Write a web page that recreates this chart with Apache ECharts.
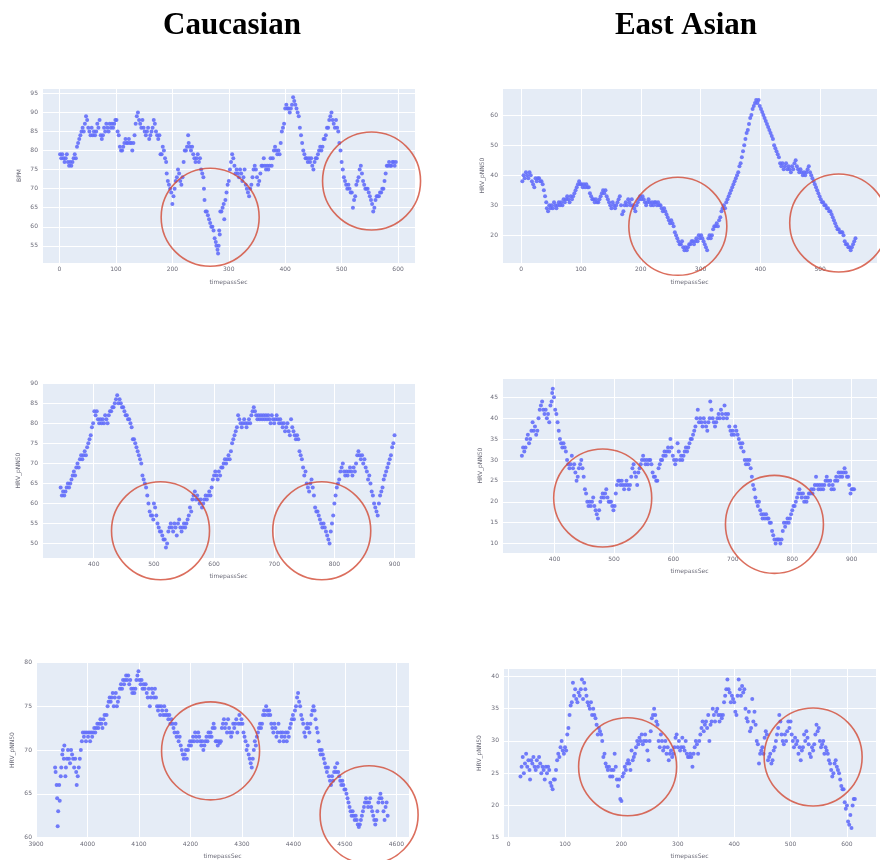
<!DOCTYPE html>
<html><head><meta charset="utf-8">
<script src="https://cdn.jsdelivr.net/npm/echarts@6/dist/echarts.min.js"></script>
<style>html,body{margin:0;padding:0;background:#fff}#c{width:880px;height:860px}</style>
</head><body><div id="c"></div>
<script>
const columnTitles = ['Caucasian', 'East Asian'];
const yNames = ['BPM', 'HRV_pNN50', 'HRV_pNN50', 'HRV_pNN50', 'HRV_pNN50', 'HRV_pNN50'];
const xName = 'timepassSec';

const p1 = [[1,79],[3,78],[5,79],[7,78],[9,77],[11,78],[13,79],[15,77],[17,76],[19,77],[21,76],[23,77],[25,78],[27,79],[29,78],
[31,81],[33,82],[35,83],[37,84],[39,85],[41,86],[43,85],[45,87],[47,89],[49,88],[51,86],[53,85],[55,84],[57,86],[59,84],[61,85],[63,84],[65,85],[67,87],[69,86],[71,88],[73,84],[75,83],[77,84],[79,86],[81,85],[83,87],[85,86],[87,85],[89,87],[91,86],[93,87],[95,86],[97,87],[99,88],[101,88],[103,85],[105,84],[107,81],[109,80],[111,80],[113,81],[115,82],[117,83],[119,82],[121,82],[123,83],[125,82],[127,82],[129,80],[131,82],[133,84],[135,87],[137,89],[139,90],[141,88],[143,87],[145,86],[147,88],[149,86],[151,85],[153,84],[155,85],[157,86],[159,83],[161,84],[163,85],[165,86],[167,88],[169,87],[171,85],[173,84],[175,83],[177,84],[179,79],[181,79],[183,81],[185,80],
[187,78],[189,77],[190,74],[192,72],[194,71],[196,70],[198,69],[200,66],[202,68],[204,70],[206,72],[208,73],[210,75],[212,74],[214,72],[216,71],[218,73],[220,77],[222,80],[224,80],[226,81],[228,84],[229,82],[231,81],[233,80],[235,81],[237,79],[239,78],[241,77],[243,78],[245,79],[247,77],[249,78],[251,75],[253,74],[255,73],[256,70],[257,67],[259,64],[261,64],[263,63],[265,62],[267,61],[269,60],[271,60],[273,59],[275,57],[277,56],[278,55],[280,54],[281,53],[282,55],[283,59],[284,58],[285,64],[287,64],[289,65],[291,66],[292,62],[294,67],[296,69],[298,71],[300,72],[302,75],[304,77],[306,79],[308,78],[310,76],[312,74],[314,75],[316,74],[318,73],[320,75],[322,74],[324,72],[326,73],[328,75],[330,71],[332,70],[334,69],[336,68],[338,70],[340,71],[342,73],[344,75],[346,76],[348,75],[350,73],[352,71],[354,72],[356,74],[358,76],[360,76],[362,78],[364,76],[366,75],[368,76],[370,75],[372,76],[374,78],[376,76],[378,78],[380,80],[382,81],[384,80],[386,79],[388,80],[390,79],[392,82],[394,85],[396,86],[398,87],[400,91],[402,92],[404,91],[406,91],[408,90],[410,91],[412,92],[414,94],[416,93],[418,92],[420,91],[422,90],[424,89],[426,86],[428,84],[430,82],[432,80],[434,79],[436,78],[438,78],[440,77],[442,78],[444,77],[446,78],[448,76],[450,75],[452,77],[454,78],[456,78],[458,79],[460,80],[462,81],[464,80],[466,81],[468,83],[470,83],[472,84],[474,86],[476,86],[478,88],[480,89],[482,90],[484,88],[486,87],[488,86],[490,88],[492,86],[494,85],[496,82],[498,80],[500,77],[502,75],[504,73],[506,72],[508,71],[510,70],[512,71],[514,70],[516,69],[518,69],[520,65],[522,67],[524,68],[526,71],[528,72],[530,73],[532,75],[534,76],[536,74],[538,72],[540,71],[542,70],[544,70],[546,70],[548,69],[550,68],[552,67],[554,66],[556,64],[558,65],[560,67],[562,68],[564,68],[566,68],[568,69],[570,69],[572,70],[574,70],[576,72],[578,74],[580,76],[582,76],[584,77],[586,76],[588,76],[590,77],[592,77],[594,76],[596,77]];

const p2 = [[2,38],[4,40],[6,39],[8,41],[10,40],[12,39],[14,41],[16,40],[18,38],[20,37],[22,36],[24,39],[26,38],[28,39],[30,39],[32,38],[34,38],[36,37],[38,35],[40,33],[42,31],[43,29],[45,28],[47,30],[49,29],[51,30],[53,29],[55,31],[57,30],[59,29],[61,30],[63,31],[65,30],[67,31],[69,30],[71,32],[73,31],[75,32],[77,33],[79,32],[81,31],[83,33],[85,32],[87,33],[89,34],[91,35],[93,36],[95,37],[97,38],[99,37],[101,37],[103,36],[105,37],[107,36],[109,37],[111,36],[113,36],[115,34],[117,33],[119,32],[121,32],[123,31],[125,32],[127,31],[129,31],[131,32],[133,33],[135,34],[137,35],[139,34],[141,35],[143,33],[145,32],[147,31],[149,30],[151,29],[153,31],[155,30],[157,29],[159,30],[161,31],[163,32],[165,33],[167,30],[169,27],[171,28],[173,30],[175,31],[177,30],[179,32],[181,31],[183,30],[185,32],[187,30],[189,29],[191,28],[193,30],[195,31],[197,32],[199,33],[201,32],[203,33],[205,32],[207,31],[209,30],[211,31],[213,32],[215,31],[217,30],[219,31],[221,30],[223,31],[225,31],[227,30],[229,31],[231,30],[233,30],[235,29],[237,28],[239,29],[241,28],[243,27],[245,26],[247,25],[249,24],[251,25],[253,24],[255,23],[257,21],[259,20],[261,19],[263,18],[265,17],[267,17],[269,18],[271,16],[273,15],[275,16],[277,15],[279,16],[281,17],[283,17],[285,18],[287,18],[289,17],[291,18],[293,19],[295,18],[297,20],[299,19],[301,20],[303,19],[305,18],[307,17],[309,16],[311,15],[313,19],[315,20],[317,19],[319,20],[321,22],[323,23],[325,23],[327,24],[329,23],[331,25],[333,26],[335,28],[337,29],[339,30],[341,29],[343,31],[345,32],[347,33],[349,34],[351,35],[353,36],[355,37],[357,38],[359,39],[361,40],[363,41],[365,43],[367,44],[369,46],[371,48],[373,50],[375,52],[377,54],[379,55],[381,57],[383,59],[385,60],[387,62],[389,63],[391,64],[393,65],[395,64],[397,65],[399,63],[401,62],[403,61],[405,60],[407,59],[409,58],[411,57],[413,56],[415,55],[417,54],[419,53],[421,52],[423,50],[425,49],[427,48],[429,47],[431,46],[433,44],[435,43],[437,44],[439,42],[441,43],[443,44],[445,42],[447,43],[449,42],[451,41],[453,43],[455,42],[457,44],[459,45],[461,43],[463,42],[465,41],[467,42],[469,41],[471,40],[473,41],[475,40],[477,41],[479,42],[481,43],[483,41],[485,40],[487,39],[489,38],[491,37],[493,36],[495,35],[497,34],[499,33],[501,32],[503,31],[505,31],[507,30],[509,30],[511,29],[513,29],[515,28],[517,28],[519,27],[521,26],[523,25],[525,24],[527,23],[529,22],[531,22],[533,21],[535,21],[537,21],[539,20],[541,18],[543,17],[545,17],[547,16],[549,16],[551,15],[553,16],[555,17],[557,18],[559,19]];

const p3 = [[345,64],[347,62],[349,63],[351,62],[353,63],[355,64],[357,65],[359,64],[361,65],[363,66],[365,67],[367,68],[369,67],[371,69],[373,70],[375,69],[377,71],[379,72],[381,71],[383,72],[385,73],[387,72],[389,74],[391,75],[393,76],[395,77],[397,79],[399,80],[401,83],[403,82],[405,83],[407,81],[409,80],[411,81],[413,80],[415,81],[417,80],[419,82],[421,81],[423,80],[425,82],[427,83],[429,83],[431,84],[433,84],[435,85],[437,86],[439,87],[441,85],[443,86],[445,85],[447,84],[449,84],[451,83],[453,82],[455,82],[457,81],[459,81],[461,80],[463,79],[465,76],[467,76],[469,75],[471,74],[473,73],[475,72],[477,71],[479,70],[481,67],[483,66],[485,65],[487,64],[489,62],[491,60],[493,58],[495,57],[497,57],[499,56],[500,60],[502,59],[504,57],[506,55],[508,54],[510,53],[512,53],[514,52],[516,51],[518,51],[520,49],[522,50],[524,53],[526,54],[528,55],[530,54],[532,53],[534,55],[536,54],[538,52],[540,55],[542,56],[544,54],[546,53],[548,54],[550,55],[552,54],[554,55],[556,56],[558,57],[560,59],[562,58],[564,61],[566,62],[568,63],[570,61],[572,62],[574,61],[576,60],[578,61],[580,59],[582,60],[584,61],[586,62],[588,61],[590,62],[592,63],[594,62],[596,64],[598,66],[600,67],[602,68],[604,67],[606,66],[608,68],[610,67],[612,69],[614,69],[616,70],[618,71],[620,70],[622,71],[624,72],[626,71],[628,73],[630,75],[632,76],[634,77],[636,78],[638,79],[640,82],[642,81],[644,80],[646,79],[648,80],[650,81],[652,80],[654,79],[656,80],[658,81],[660,80],[662,82],[664,83],[666,84],[668,83],[670,82],[672,81],[674,82],[676,81],[678,82],[680,81],[682,82],[684,81],[686,82],[688,81],[690,82],[692,81],[694,80],[696,82],[698,81],[700,80],[702,81],[704,82],[706,81],[708,80],[710,81],[712,80],[714,79],[716,80],[718,78],[720,79],[722,80],[724,78],[726,77],[728,81],[730,79],[732,78],[734,77],[736,76],[738,77],[740,76],[742,73],[744,72],[746,71],[748,69],[750,67],[752,68],[754,65],[756,64],[758,63],[760,65],[762,66],[764,64],[766,62],[768,59],[770,58],[772,58],[774,57],[776,56],[778,55],[780,54],[782,55],[784,54],[786,53],[788,52],[790,51],[792,50],[794,53],[796,55],[798,57],[800,60],[802,62],[804,64],[806,65],[808,66],[810,68],[812,69],[814,70],[816,68],[818,67],[820,68],[822,67],[824,68],[826,69],[828,68],[830,67],[832,69],[834,68],[836,70],[838,72],[840,73],[842,72],[844,71],[846,72],[848,70],[850,71],[852,69],[854,68],[856,66],[858,67],[860,65],[862,63],[864,62],[866,60],[868,59],[870,58],[872,57],[874,60],[876,62],[878,63],[880,64],[882,66],[884,67],[886,68],[888,69],[890,70],[892,71],[894,72],[896,74],[898,75],[900,77]];

const p4 = [[345,31],[347,33],[349,32],[351,33],[353,35],[355,36],[357,34],[359,35],[361,37],[363,39],[365,37],[367,38],[369,36],[371,37],[373,40],[375,42],[377,43],[379,44],[381,42],[383,41],[385,42],[387,40],[389,41],[391,39],[393,43],[395,44],[396,46],[397,47],[399,45],[401,42],[403,41],[405,39],[407,37],[409,35],[411,34],[413,33],[415,34],[417,33],[419,32],[421,30],[423,29],[425,28],[427,29],[429,31],[431,28],[433,29],[435,27],[437,25],[439,26],[441,28],[443,29],[445,30],[447,28],[449,26],[451,23],[453,22],[455,20],[457,19],[459,20],[461,19],[463,20],[465,21],[467,19],[469,18],[471,17],[473,16],[475,18],[477,20],[479,21],[481,22],[483,21],[485,22],[487,23],[489,21],[491,20],[493,20],[495,20],[497,19],[499,18],[501,19],[503,22],[505,24],[507,25],[509,25],[511,24],[513,25],[515,24],[517,23],[519,24],[521,25],[523,24],[525,23],[527,24],[529,26],[531,28],[533,29],[535,27],[537,26],[539,24],[541,27],[543,28],[545,29],[547,30],[549,31],[551,30],[553,29],[555,30],[557,29],[559,30],[561,30],[563,29],[565,27],[567,26],[569,26],[571,25],[573,25],[575,28],[577,29],[579,30],[581,30],[583,31],[585,32],[587,31],[589,32],[591,33],[593,32],[595,35],[597,33],[599,31],[601,30],[603,29],[605,30],[607,34],[609,32],[611,30],[613,31],[615,30],[617,31],[619,32],[621,33],[623,32],[625,33],[627,34],[629,35],[631,35],[633,36],[635,37],[637,38],[639,40],[641,42],[643,39],[645,40],[647,39],[649,38],[651,40],[653,39],[655,38],[657,37],[659,39],[661,40],[662,44],[664,42],[666,40],[668,39],[670,38],[672,39],[674,40],[676,41],[678,40],[680,42],[682,41],[684,40],[686,43],[688,41],[690,40],[692,41],[694,38],[696,37],[698,36],[700,37],[702,36],[704,38],[706,37],[708,36],[710,35],[712,34],[714,33],[716,34],[718,32],[720,30],[722,29],[724,30],[726,29],[728,30],[730,28],[732,26],[734,24],[736,23],[738,21],[740,20],[742,19],[744,20],[746,18],[748,17],[750,16],[752,17],[754,16],[756,17],[758,16],[760,16],[762,15],[764,15],[766,13],[768,12],[770,11],[772,10],[774,11],[776,11],[778,11],[780,10],[782,11],[784,13],[786,15],[788,14],[790,15],[792,16],[794,15],[796,16],[798,17],[800,18],[802,19],[804,19],[806,20],[808,21],[810,22],[812,23],[814,22],[816,21],[818,22],[820,20],[822,21],[824,20],[826,21],[828,22],[830,22],[832,23],[834,22],[836,23],[838,24],[840,26],[842,24],[844,23],[846,24],[848,23],[850,24],[852,23],[854,24],[856,25],[858,26],[860,25],[862,24],[864,25],[866,23],[868,24],[870,23],[872,25],[874,26],[876,25],[878,27],[880,26],[882,27],[884,26],[886,27],[888,28],[890,27],[892,26],[894,26],[896,24],[898,22],[900,23],[902,23],[904,23]];

const p5 = [[3937,68],[3938,67.5],[3940,66],[3941,64.5],[3942,61.3],[3943,63],[3945,66],[3946,64.2],[3948,67],[3949,68],[3951,69.5],[3952,70],[3954,69],[3955,70.5],[3957,67],[3958,68],[3960,69],[3962,70],[3964,69],[3966,68.5],[3968,70],[3970,69.5],[3972,69],[3974,68],[3976,69],[3978,67.5],[3979,66],[3981,67],[3983,68],[3985,69],[3987,70],[3989,71],[3991,72],[3993,71.5],[3995,72],[3997,71],[3999,72],[4001,71.5],[4003,72],[4005,71],[4007,72],[4009,71.5],[4011,72],[4013,72.5],[4015,72],[4017,72.5],[4019,73],[4021,72.5],[4023,73],[4025,73.5],[4027,73],[4029,72.5],[4031,73.5],[4033,74],[4035,73],[4037,74],[4039,75],[4041,75.5],[4043,76],[4045,75.5],[4047,76],[4049,76.5],[4051,75],[4053,76],[4055,76.5],[4057,75],[4059,75.5],[4061,76],[4063,77],[4065,77.5],[4067,77],[4069,78],[4071,77.5],[4073,78],[4075,78.5],[4077,78],[4079,78.5],[4081,77.5],[4083,78],[4085,77],[4087,76.5],[4089,77],[4091,76.5],[4093,77],[4095,78],[4097,78.5],[4099,79],[4101,78],[4103,77.5],[4105,78],[4107,77],[4109,77.5],[4111,77],[4113,77.5],[4115,76.5],[4117,76],[4119,77],[4121,75],[4123,76],[4125,77],[4127,76.5],[4129,76],[4131,77],[4133,76],[4135,75],[4137,74.5],[4139,75],[4141,74],[4143,75],[4145,74.5],[4147,74],[4149,75],[4151,74],[4153,74.5],[4155,74],[4157,73.5],[4159,74],[4161,73],[4163,73.5],[4165,73],[4167,72.5],[4169,72],[4171,73],[4173,71.5],[4175,72],[4177,71],[4179,71.5],[4181,70.5],[4183,70],[4185,69.5],[4187,69],[4189,69.5],[4191,70],[4193,69],[4195,70],[4197,70.5],[4199,71],[4201,70.5],[4203,71],[4205,71.5],[4207,71],[4209,72],[4211,71.5],[4213,71],[4215,72],[4217,71.5],[4219,71],[4221,70.5],[4223,71],[4225,70],[4227,70.5],[4229,71],[4231,71.5],[4233,71],[4235,72],[4237,71.5],[4239,72],[4241,71.5],[4243,72.5],[4245,73],[4247,72.5],[4249,71],[4251,71],[4253,70.5],[4255,71],[4257,70.8],[4259,71],[4261,72.5],[4263,73],[4265,73.5],[4267,72.5],[4269,73],[4271,72],[4273,73.5],[4275,72.5],[4277,72],[4279,71.5],[4281,72],[4283,73],[4285,72.5],[4287,73],[4289,73.5],[4291,72],[4293,73],[4295,74],[4297,73],[4299,73.5],[4301,73],[4303,72],[4305,71.5],[4307,71],[4309,70],[4311,70.5],[4313,69.5],[4315,69],[4317,68.5],[4319,68],[4321,69],[4323,70],[4325,71],[4327,70.5],[4329,71.5],[4331,72],[4333,72.5],[4335,73],[4337,72.5],[4339,73],[4341,74],[4343,74.5],[4345,74],[4347,75],[4349,74.5],[4351,74],[4353,74.5],[4355,74],[4357,73],[4359,72.5],[4361,72],[4363,73],[4365,72.5],[4367,71.5],[4369,72],[4371,73],[4373,71],[4375,72],[4377,71.5],[4379,72],[4381,71],[4383,71.5],[4385,72],[4387,71],[4389,72],[4391,71.5],[4393,72.5],[4395,73],[4397,73.5],[4399,74],[4401,73.5],[4403,74.5],[4405,75],[4407,76],[4409,76.5],[4411,75.5],[4413,75],[4415,74],[4417,73.5],[4419,73],[4421,72],[4423,71.5],[4425,72.5],[4427,73],[4429,72.5],[4431,72],[4433,73],[4435,74],[4437,74.5],[4439,75],[4441,74.5],[4443,73.5],[4445,72.5],[4447,72],[4449,71],[4451,70],[4453,69.5],[4455,70],[4457,69.5],[4459,69],[4461,68.5],[4463,68],[4465,67.5],[4467,68],[4469,67],[4471,66.5],[4473,66],[4475,67],[4477,66.5],[4479,67.5],[4481,68],[4483,67.5],[4485,68.5],[4487,67.5],[4489,67],[4491,66.5],[4493,66],[4495,66.5],[4497,66],[4499,65.5],[4501,65.5],[4503,65],[4505,64.5],[4507,64],[4509,63.5],[4511,63],[4513,62.5],[4515,63],[4517,62.5],[4519,62],[4521,62.5],[4523,62],[4525,61.5],[4527,61.2],[4529,61.5],[4531,62],[4533,62.5],[4535,63],[4537,63.5],[4539,64],[4541,64.5],[4543,64],[4545,63.5],[4547,64],[4549,64.5],[4551,63.5],[4553,63],[4555,62.5],[4557,62],[4559,61.5],[4561,62],[4563,63],[4565,64],[4567,64.5],[4569,65],[4571,64.5],[4573,64],[4575,63],[4577,62],[4579,63.5],[4581,64],[4583,62.5]];

const p6 = [[21,24.5],[23,26],[25,27.5],[27,25],[29,26.5],[31,28],[33,26],[35,27],[37,25.5],[38,24],[40,27],[42,26.5],[44,27.5],[46,26],[48,25.5],[50,27],[52,26],[54,27.5],[56,26.5],[58,25],[60,26],[62,25.5],[64,24],[66,26],[68,25],[70,26],[72,25.5],[74,23.5],[76,23],[78,22.5],[80,24],[82,24],[84,25.5],[86,27],[88,28],[90,27.5],[92,29],[94,30],[96,28.5],[98,28],[100,29],[102,28.5],[104,31],[106,32],[108,34],[110,35.5],[112,36],[114,39],[116,37],[118,38],[120,36.5],[122,36],[124,37.5],[126,37],[128,38],[130,39.5],[132,36.5],[134,39],[136,38],[138,37],[140,36],[142,35.5],[144,35],[146,36],[148,34],[150,35],[152,34],[154,33.5],[156,32.5],[158,31],[160,32],[162,31.5],[164,31],[166,30],[168,27.5],[170,28],[172,26.5],[174,26],[176,25.5],[178,26],[180,24.5],[182,25.5],[184,24.5],[186,25.5],[188,28],[190,26],[192,24],[194,23],[196,24],[198,21],[200,20.7],[202,24.5],[204,25],[206,26],[208,25.5],[210,26.5],[212,27],[214,26.5],[216,25.5],[218,28.5],[220,27],[222,27.5],[224,28],[226,29],[228,30],[230,29.5],[232,30.5],[234,30],[236,31],[238,29.5],[240,30],[242,31],[244,30],[246,28.5],[248,27],[250,30],[252,31.5],[254,33.5],[256,34],[258,35],[260,34],[262,33],[264,32.5],[266,30],[268,29],[270,31],[272,30],[274,28.5],[276,29],[278,30],[280,28],[282,29],[284,27],[286,28],[288,28.5],[290,27.5],[292,28],[294,29],[296,30.5],[298,31],[300,29],[302,30],[304,28.5],[306,29],[308,30.5],[310,29],[312,28.5],[314,30],[316,28],[318,27.5],[320,27.5],[322,28],[324,27.5],[326,26],[328,28],[330,29],[332,30],[334,29.5],[336,28],[338,30],[340,31],[342,32],[344,33],[346,31.5],[348,32.5],[350,33],[352,32],[354,34],[356,30],[358,32.5],[360,33],[362,35],[364,34],[366,33],[368,34.5],[370,35],[372,34],[374,33],[376,34],[378,33.5],[380,34],[382,36],[384,37],[386,38],[388,39.5],[390,38],[392,37.5],[394,36],[396,37],[398,36.5],[400,36],[402,34.5],[404,34],[406,37],[408,39.5],[410,38],[412,37],[414,38.5],[416,37.5],[418,38],[420,35],[422,33.5],[424,33],[426,34.5],[428,31.5],[430,32],[432,36.5],[434,33],[436,34.5],[438,32.5],[440,30],[442,29.5],[444,26.5],[446,28],[448,28.5],[450,29],[452,28],[454,30.5],[456,31.5],[458,31],[460,27],[462,27.5],[464,28],[466,26.5],[468,27],[470,28.5],[472,29],[474,30],[476,31],[478,32],[480,34],[482,33],[484,31],[486,30],[488,29.5],[490,31],[492,30],[494,31.5],[496,33],[498,32],[500,33],[502,31],[504,30],[506,29],[508,30.5],[510,29.5],[512,30],[514,28],[516,29],[518,27],[520,28.5],[522,29],[524,31],[526,30],[528,31.5],[530,30.5],[532,29.5],[534,28],[536,27.5],[538,29],[540,28.5],[542,29.5],[544,31],[546,32.5],[548,31.5],[550,32],[552,30],[554,29],[556,29.5],[558,30],[560,28],[562,29],[564,28.5],[566,28],[568,27],[570,26.5],[572,25.5],[574,24.5],[576,25],[578,26.5],[580,27],[582,26],[584,25.5],[586,25],[588,24],[590,23],[592,22.5],[594,22.5],[596,20.5],[598,19.5],[600,20],[602,17.5],[604,17],[606,18.5],[608,16.5],[610,20],[612,21],[614,21]];

const panelData = [p1, p2, p3, p4, p5, p6];

// highlighted regions (circle centers in data units)
const circles1 = [[267, 62.5], [553, 72.0]];
const circles2 = [[262, 23.0], [531, 24.1]];
const circles3 = [[511, 53.2], [779, 53.2]];
const circles4 = [[481, 20.9], [770, 14.6]];
const circles5 = [[4239, 69.9], [4547, 62.6]];
const circles6 = [[211, 26.0], [540, 27.5]];
const panelCircles = [circles1, circles2, circles3, circles4, circles5, circles6];

// axis ranges and tick steps
const xRanges = [[-31, 630], [-32, 595], [314, 934], [311.5, 942.6], [3899.9, 4624.5], [-10, 651.5]];
const yRanges = [[50.5, 96.4], [10.8, 69], [46.4, 90.05], [7.75, 49.6], [59.95, 80.05], [14.95, 41.3]];
const xSteps = [100, 100, 100, 100, 100, 100];
const ySteps = [5, 10, 5, 5, 5, 5];

const layout = [
  {left: 42, top: 88, width: 373, height: 175, yGap: 20, xGap: 16},
  {left: 502, top: 88, width: 375, height: 175, yGap: 17, xGap: 16},
  {left: 42, top: 383, width: 373, height: 175, yGap: 21, xGap: 15},
  {left: 502, top: 378, width: 375, height: 175, yGap: 19, xGap: 15},
  {left: 36, top: 662, width: 373, height: 176, yGap: 21, xGap: 15},
  {left: 503, top: 668, width: 373, height: 173, yGap: 21, xGap: 15}
];

const labelColor = '#6b6b78';
const plainNumber = v => String(Math.round(v * 100) / 100);
const grids = [], xAxes = [], yAxes = [], series = [];
layout.forEach((g, i) => {
  grids.push({left: g.left, top: g.top, width: g.width, height: g.height, show: true,
    backgroundColor: '#e5ecf6', borderWidth: 0});
  const common = {
    gridIndex: i, type: 'value', axisLine: {show: false}, axisTick: {show: false},
    splitLine: {show: true, lineStyle: {color: '#ffffff', width: 1}},
    nameLocation: 'middle', nameTextStyle: {fontSize: 6, color: labelColor, fontFamily: 'DejaVu Sans'}
  };
  xAxes.push(Object.assign({}, common, {
    min: xRanges[i][0], max: xRanges[i][1], minInterval: xSteps[i], maxInterval: xSteps[i], splitNumber: 6,
    name: xName, nameGap: g.xGap,
    axisLabel: {fontSize: 6, color: labelColor, margin: 3, showMinLabel: false, showMaxLabel: false,
      fontFamily: 'DejaVu Sans', formatter: plainNumber}
  }));
  yAxes.push(Object.assign({}, common, {
    min: yRanges[i][0], max: yRanges[i][1], minInterval: ySteps[i], maxInterval: ySteps[i], splitNumber: 8,
    name: yNames[i], nameGap: g.yGap,
    axisLabel: {fontSize: 6, color: labelColor, margin: 4, showMinLabel: false, showMaxLabel: false,
      fontFamily: 'DejaVu Sans', formatter: plainNumber}
  }));
  series.push({
    type: 'scatter', xAxisIndex: i, yAxisIndex: i, data: panelData[i], symbolSize: 4,
    itemStyle: {color: '#636efa', opacity: 0.9}, z: 2
  });
  series.push({
    type: 'scatter', xAxisIndex: i, yAxisIndex: i, data: panelCircles[i], symbol: 'circle', symbolSize: 98,
    clip: false, silent: true, z: 3,
    itemStyle: {color: 'rgba(0,0,0,0)', borderColor: '#d24a35', borderWidth: 1.6}
  });
});

const chart = echarts.init(document.getElementById('c'), null, {renderer: 'canvas'});
chart.setOption({
  animation: false,
  backgroundColor: '#ffffff',
  grid: grids, xAxis: xAxes, yAxis: yAxes, series: series,
  graphic: [
    {type: 'text', x: 232, y: 26, style: {text: columnTitles[0], textAlign: 'center', textVerticalAlign: 'middle',
      font: 'bold 31px "Liberation Serif"', fill: '#000'}},
    {type: 'text', x: 686, y: 26, style: {text: columnTitles[1], textAlign: 'center', textVerticalAlign: 'middle',
      font: 'bold 31px "Liberation Serif"', fill: '#000'}}
  ]
});
</script></body></html>
